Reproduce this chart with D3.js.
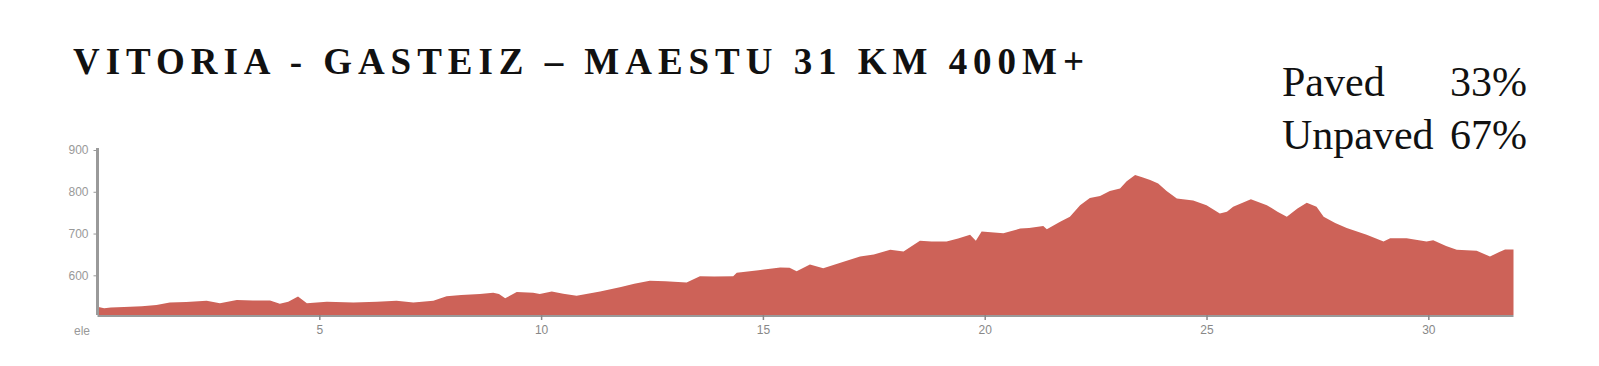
<!DOCTYPE html>
<html>
<head>
<meta charset="utf-8">
<script src="https://cdn.jsdelivr.net/npm/d3@7"></script>
<style>
  body { margin: 0; background: #fff; }
  svg { display: block; }
</style>
</head>
<body>
<div id="chart"></div>
<script>
// route profile
var title = "VITORIA - GASTEIZ – MAESTU 31 KM 400M+";
var surfaceLabels = ["Paved", "Unpaved"];
var surfaceShares = ["33%", "67%"];
var yTicks = [600, 700, 800, 900];
var xTicks = [5, 10, 15, 20, 25, 30];

var dist = [0.0, 0.15, 0.3, 0.6, 1.0, 1.33, 1.63, 2.0, 2.46, 2.76, 3.14, 3.5, 3.89, 4.11, 4.3, 4.52, 4.72,
  5.17, 5.77, 6.3, 6.74, 7.12, 7.57, 7.87, 8.2, 8.62, 8.92, 9.05, 9.19, 9.45, 9.82, 9.97, 10.24, 10.5,
  10.8, 11.33, 11.8, 12.1, 12.45, 12.8, 13.28, 13.58, 13.9, 14.33, 14.41, 14.9, 15.39, 15.6, 15.76,
  16.06, 16.36, 16.8, 17.19, 17.5, 17.87, 18.17, 18.54, 18.8, 19.14, 19.4, 19.67, 19.8, 19.93, 20.42,
  20.8, 21.0, 21.32, 21.4, 21.7, 21.92, 22.15, 22.37, 22.6, 22.82, 23.05, 23.2, 23.39, 23.55, 23.73,
  23.91, 24.1, 24.33, 24.7, 25.0, 25.3, 25.46, 25.6, 26.0, 26.36, 26.6, 26.81, 27.05, 27.26, 27.48,
  27.64, 27.9, 28.16, 28.61, 28.99, 29.14, 29.51, 29.96, 30.11, 30.4, 30.64, 31.09, 31.39, 31.6,
  31.73, 31.92];
var ele = [525, 521, 523, 524, 526, 529, 535, 536, 539, 533, 541, 540, 540, 532, 537, 549, 533,
  537, 535, 537, 539, 535, 539, 550, 553, 555, 558, 555, 545, 560, 558, 555, 561, 556,
  551, 561, 572, 580, 587, 586, 583, 598, 597, 598, 606, 612, 619, 618, 610,
  626, 617, 632, 645, 650, 661, 657, 683, 681, 681, 688, 697, 683, 705, 701,
  712, 713, 718, 710, 728, 740, 768, 785, 790, 802, 808, 825, 840, 835, 828,
  820, 802, 784, 779, 768, 748, 752, 764, 782, 768, 752, 740, 760, 774, 764,
  740, 725, 713, 697, 681, 689, 689, 681, 684, 670, 661, 659, 645, 656,
  662, 662];

var width = 1599, height = 366;
var svg = d3.select("#chart").append("svg")
  .attr("width", width)
  .attr("height", height);

var x = d3.scaleLinear().domain([0, 31.92]).range([97.5, 1513.5]);
var y = d3.scaleLinear().domain([505, 900]).range([315, 150]);

var points = dist.map(function (d, i) { return { km: d, m: ele[i] }; });

// filled elevation profile
var area = d3.area()
  .x(d => x(d.km))
  .y0(y(505))
  .y1(d => y(d.m));

svg.append("path")
  .datum(points)
  .attr("d", area)
  .attr("fill", "#cd6258");

// x axis
var xAxis = svg.append("g")
  .attr("transform", "translate(0," + y(505) + ")")
  .call(d3.axisBottom(x).tickValues(xTicks).tickSize(5).tickPadding(5).tickFormat(d3.format("d")));
xAxis.select(".domain").attr("stroke", "#9a9a9a").attr("stroke-width", 2)
  .attr("d", "M" + x(0) + ",1H" + x(31.92));
xAxis.selectAll(".tick line").attr("stroke", "#888").attr("stroke-width", 1.5);
xAxis.selectAll("text").attr("fill", "#888").attr("font-size", 12)
  .attr("font-family", "Liberation Sans, Arial, sans-serif");

// y axis
var yAxis = svg.append("g")
  .attr("transform", "translate(" + x(0) + ",0)")
  .call(d3.axisLeft(y).tickValues(yTicks).tickSize(4).tickPadding(5));
yAxis.select(".domain").attr("stroke", "#9a9a9a").attr("stroke-width", 3)
  .attr("d", "M0," + (y(900) - 2) + "V" + y(505));
yAxis.selectAll(".tick line").attr("stroke", "#999");
yAxis.selectAll("text").attr("fill", "#999").attr("font-size", 12)
  .attr("font-family", "Liberation Sans, Arial, sans-serif");

svg.append("text")
  .attr("x", 82).attr("y", 335)
  .attr("text-anchor", "middle")
  .attr("fill", "#999")
  .attr("font-size", 12)
  .attr("font-family", "Liberation Sans, Arial, sans-serif")
  .text("ele");

// title
svg.append("text")
  .attr("x", 73).attr("y", 73.5)
  .attr("font-family", "Liberation Serif, serif")
  .attr("font-weight", "bold")
  .attr("font-size", 37)
  .attr("fill", "#111")
  .attr("textLength", 1011)
  .attr("lengthAdjust", "spacing")
  .text(title);

// surface split
var legend = svg.append("g")
  .attr("font-family", "Liberation Serif, serif")
  .attr("font-size", 42)
  .attr("fill", "#111");
surfaceLabels.forEach(function (lab, i) {
  legend.append("text")
    .attr("x", 1282).attr("y", 96 + i * 53)
    .text(lab);
  legend.append("text")
    .attr("x", 1527).attr("y", 96 + i * 53)
    .attr("text-anchor", "end")
    .text(surfaceShares[i]);
});
</script>
</body>
</html>
